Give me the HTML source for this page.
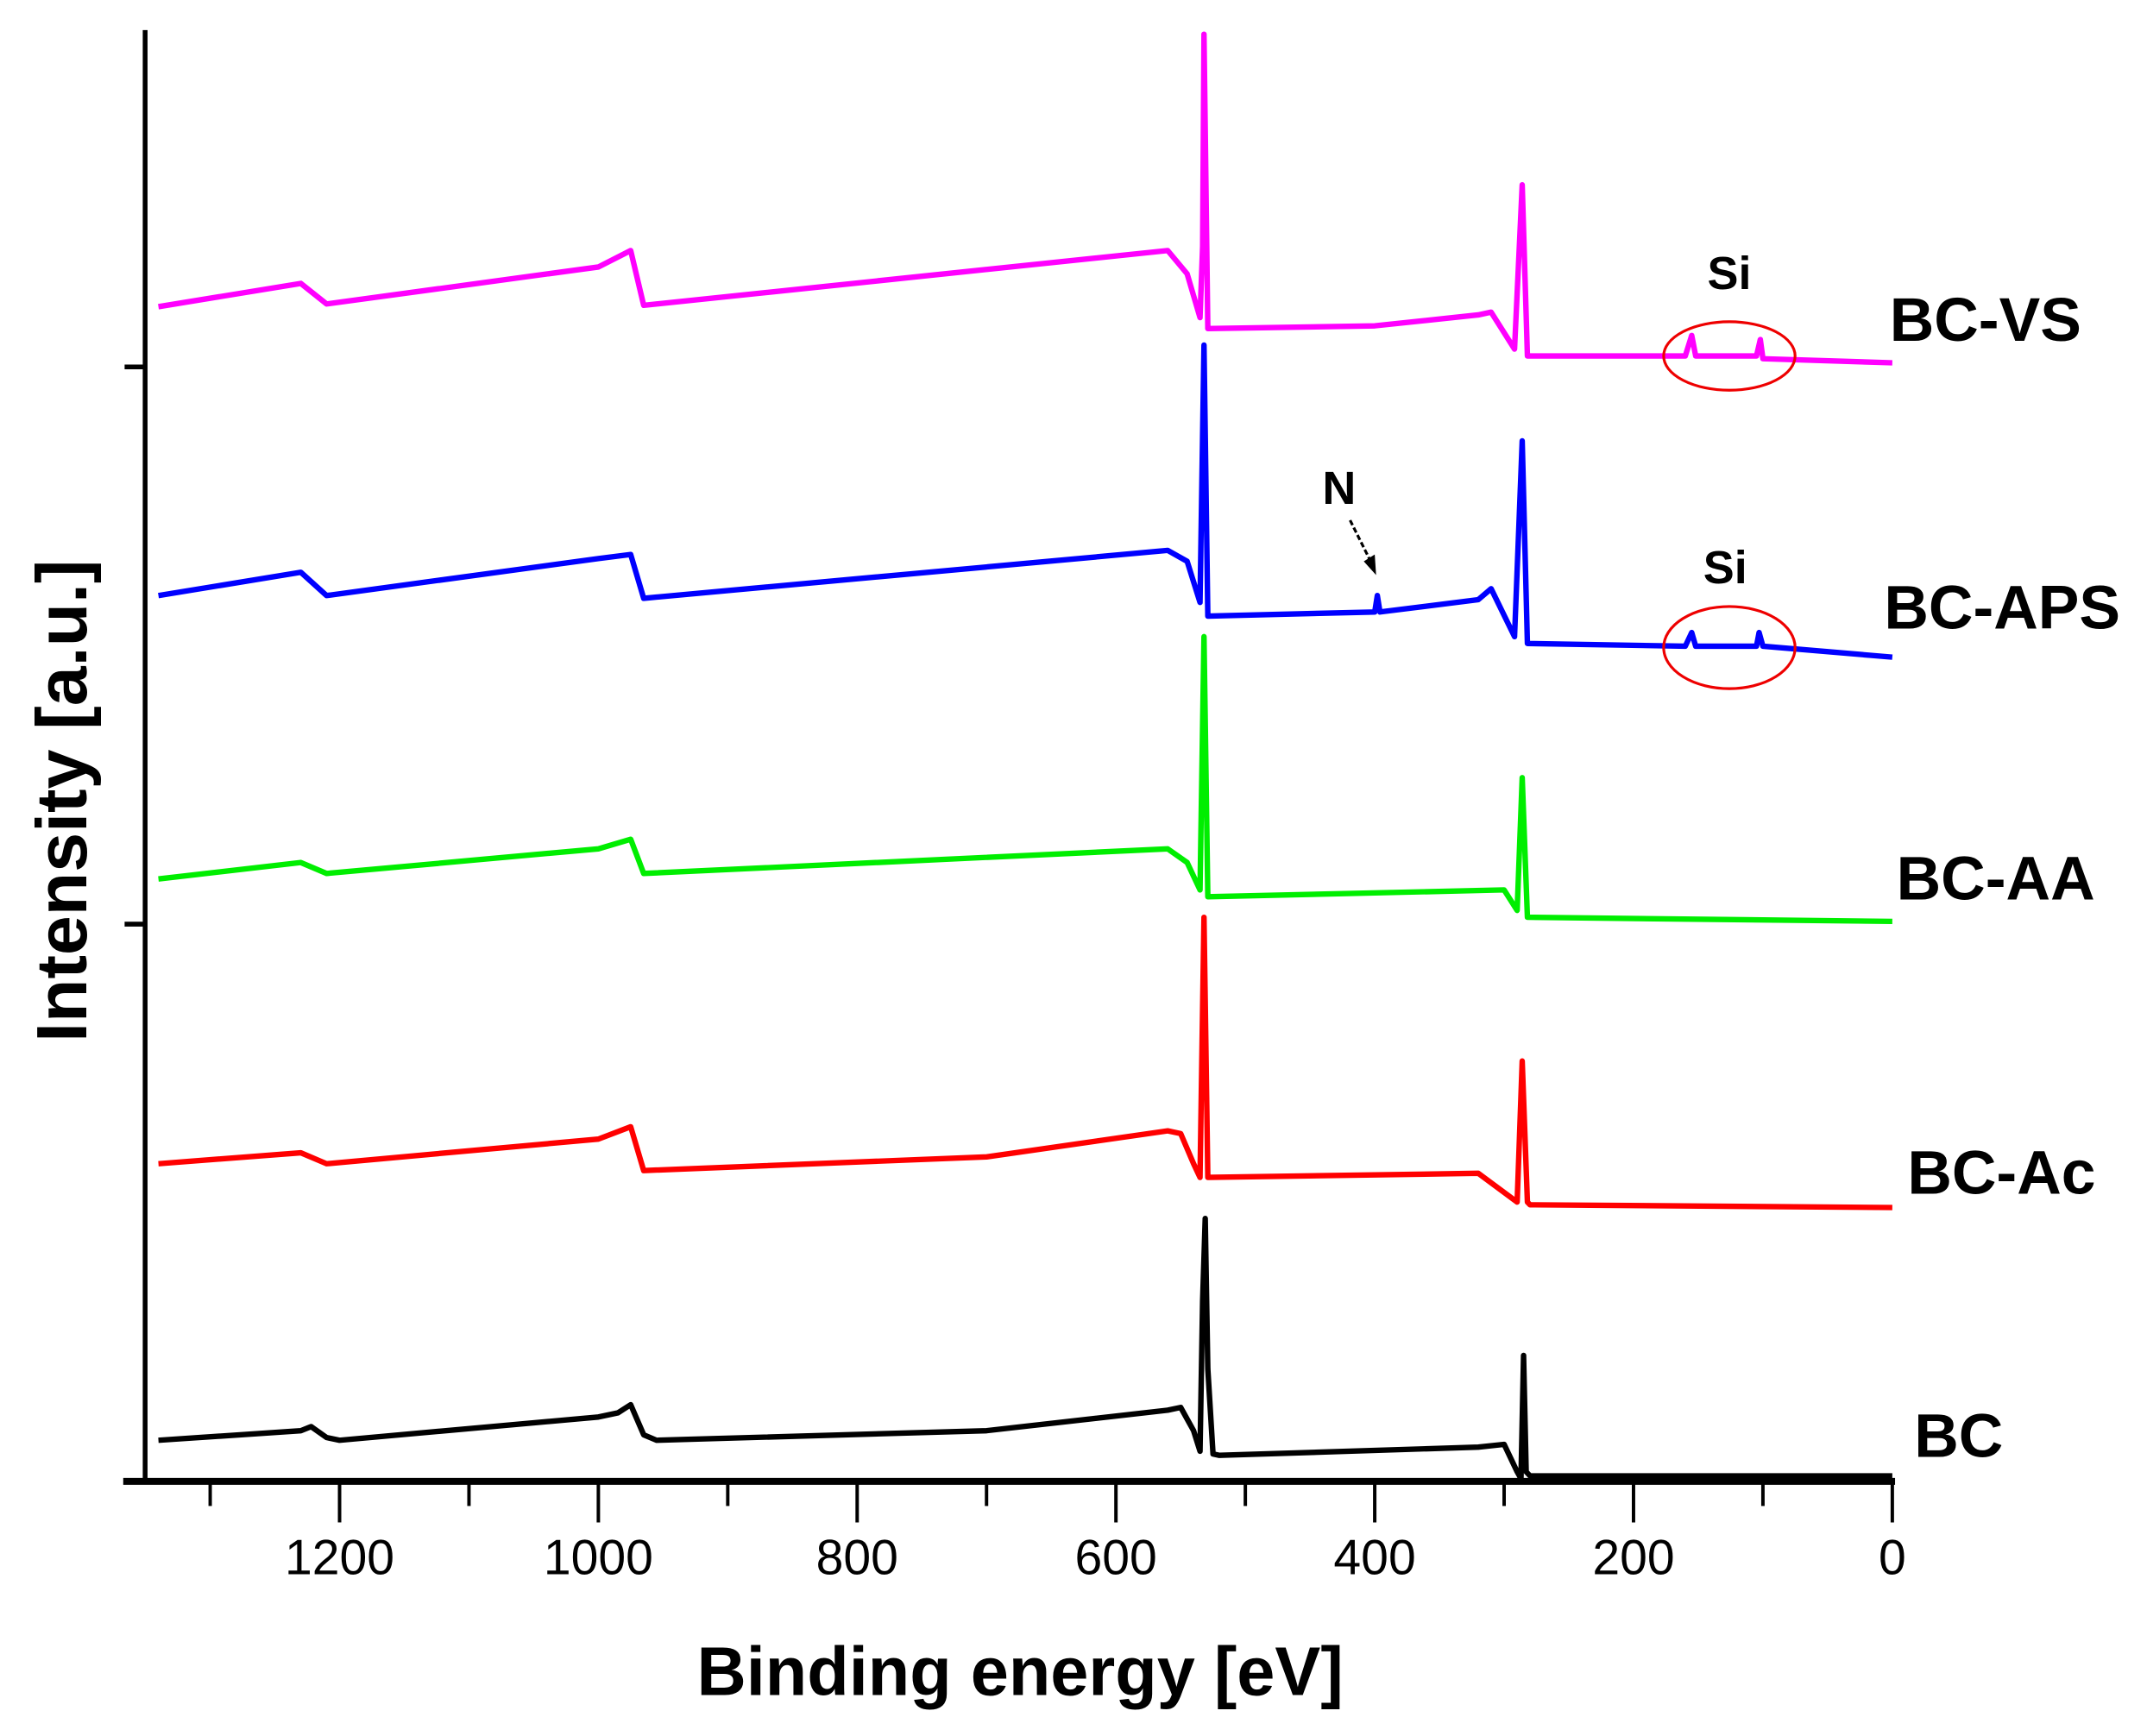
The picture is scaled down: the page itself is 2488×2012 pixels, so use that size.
<!DOCTYPE html>
<html><head><meta charset="utf-8"><style>
html,body{margin:0;padding:0;background:#fff;}
svg{display:block;}
text{font-family:"Liberation Sans",Arial,sans-serif;font-weight:bold;fill:#000;}
</style></head>
<body>
<svg id="chart" width="2488" height="2012" viewBox="0 0 1568 1268" xmlns="http://www.w3.org/2000/svg">
<g id="axes"></g>
<g id="series"></g>
<g id="labels"></g>
</svg>
<script>
// ---- data (binding energy eV, intensity a.u.) ----
const xTicks = [1200, 1000, 800, 600, 400, 200, 0];
const xTickLabels = ["1200", "1000", "800", "600", "400", "200", "0"];
const xMinorTicks = [1300, 1100, 900, 700, 500, 300, 100];
const yTicks = [812, 405];
const seriesNames = ["BC", "BC-Ac", "BC-AA", "BC-APS", "BC-VS"];
const seriesColors = ["#000000", "#ff0000", "#00ee00", "#0000ff", "#ff00ff"];

const bcE = [1340,1230,1222,1210,1200,1000,985,975,965,955,700,560,550,540,535,533,531,529,525,520,320,300,290,287,285,283,280,0];
const bcI = [28,35,38,30,28,45,48,54,32,28,35,50,52,35,20,130,190,80,18,17,23,25,5,0,90,5,2,2];
const acE = [1340,1230,1210,1000,975,965,700,560,550,540,535,532,529,320,290,286,282,280,0];
const acI = [230,238,230,248,257,225,235,254,252,230,220,410,220,223,202,305,202,200,198];
const aaE = [1340,1230,1210,1000,975,965,560,545,535,532,529,300,290,286,282,0];
const aaI = [438,450,442,460,467,442,460,450,430,615,425,430,415,512,410,407];
const apsE = [1340,1230,1210,1000,975,965,560,545,535,532,529,400,398,396,320,310,292,286,282,160,155,152,105,103,100,0];
const apsI = [645,662,645,672,675,643,678,670,640,828,630,633,645,633,642,650,615,758,610,608,618,608,608,618,608,600];
const vsE = [1340,1230,1210,1000,975,965,560,545,535,533,532,529,400,320,310,292,286,282,160,155,152,105,102,100,0];
const vsI = [856,873,858,885,897,857,897,880,848,900,1055,840,842,850,852,825,945,820,820,835,820,820,832,818,815];

// ---- axis functions ----
const X0 = 1382, PXPER = 0.945, Y0 = 1080;
function xs(e){ return X0 - e*PXPER; }
function ys(v){ return Y0 - v; }

const NS = "http://www.w3.org/2000/svg";
function mk(tag, attrs, parent){ const el=document.createElementNS(NS,tag); for(const k in attrs) el.setAttribute(k,attrs[k]); parent.appendChild(el); return el; }
const axes = document.getElementById('axes');
const sg = document.getElementById('series');
const lg = document.getElementById('labels');

let a1 = mk('line',{x1:106,y1:22,x2:106,y2:1082,stroke:'#000','stroke-width':3.5},axes);


let a2 = mk('line',{x1:90,y1:1082,x2:1384,y2:1082,stroke:'#000','stroke-width':5},axes);



xTicks.forEach((t,i)=>{
  const x = xs(t);
  const tk = mk('line',{x1:x,y1:1082,x2:x,y2:1112,stroke:'#000','stroke-width':2.5},axes);
  
  
  const tl = mk('text',{x:x,y:1150,'text-anchor':'middle','font-size':36},axes);
  tl.style.fontWeight='normal';
  tl.textContent = xTickLabels[i];
  
  
});
xMinorTicks.forEach(t=>{
  const x = xs(t);
  const tk = mk('line',{x1:x,y1:1082,x2:x,y2:1100,stroke:'#000','stroke-width':2.5},axes);
  
  
});
yTicks.forEach(v=>{
  const y = ys(v);
  const tk = mk('line',{x1:91,y1:y,x2:106,y2:y,stroke:'#000','stroke-width':3.5},axes);
  
  
});

const allE = [bcE, acE, aaE, apsE, vsE];
const allI = [bcI, acI, aaI, apsI, vsI];
allE.forEach((E,si)=>{
  const I = allI[si];
  const d = E.map((e,k)=>(k?'L':'M')+xs(e).toFixed(1)+','+ys(I[k]).toFixed(1)).join(' ');
  const p = mk('path',{d:d,fill:'none',stroke:seriesColors[si],'stroke-width':4,'stroke-linejoin':'round'},sg);
  
  
});

const labPos = [[1398,1064],[1393,872],[1385,657],[1376,459],[1380,249]];
seriesNames.forEach((n,i)=>{
  const t = mk('text',{x:labPos[i][0],y:labPos[i][1],'font-size':45},lg);
  t.textContent = n;
  
  
});

function txt(s,x,y,size,name){ const t=mk('text',{x:x,y:y,'font-size':size,'text-anchor':'middle'},lg); t.textContent=s;   return t; }
txt('Si',1263,211,34,'si-label-vs');
txt('Si',1260,426,34,'si-label-aps');
txt('N',978,368,34,'n-label');
let e1 = mk('ellipse',{cx:1263,cy:260,rx:48,ry:25,fill:'none',stroke:'#e00','stroke-width':2},lg);


let e2 = mk('ellipse',{cx:1263,cy:473,rx:48,ry:30,fill:'none',stroke:'#e00','stroke-width':2},lg);


let ar = mk('path',{d:'M986,380 L1000,408',stroke:'#000','stroke-width':2,'stroke-dasharray':'4,2',fill:'none'},lg);


let ah = mk('path',{d:'M996,410 L1005,420 L1004,405 Z',fill:'#000'},lg);



let xt = txt('Binding energy [eV]',745,1238,50,'x-axis-title');
let yt = mk('text',{x:0,y:0,'font-size':52,'text-anchor':'middle',transform:'translate(63,585) rotate(-90)'},lg);
yt.textContent='Intensity [a.u.]';


</script>
</body></html>
